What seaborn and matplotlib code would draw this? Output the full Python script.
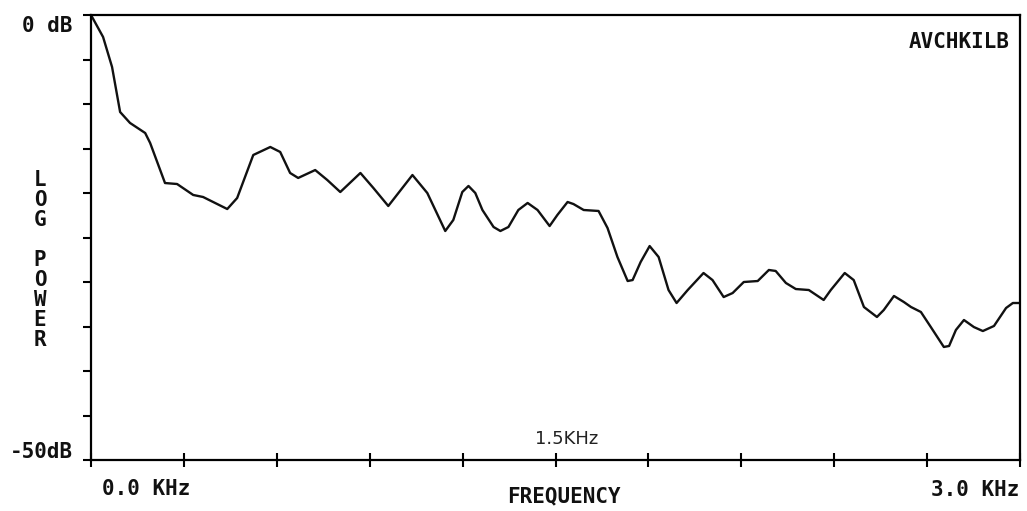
import numpy as np
import pandas as pd
import matplotlib
matplotlib.use("Agg")
import matplotlib.pyplot as plt
import seaborn as sns

# Averaged log power spectrum (frequency in kHz, level in dB re. peak)
freq_khz = [0.000, 0.039, 0.068, 0.094, 0.126, 0.175, 0.191, 0.239, 0.278, 0.330,
            0.362, 0.440, 0.472, 0.524, 0.579, 0.611, 0.643, 0.669, 0.724, 0.763,
            0.805, 0.870, 0.912, 0.960, 1.038, 1.086, 1.144, 1.170, 1.199, 1.219,
            1.241, 1.264, 1.300, 1.322, 1.348, 1.380, 1.410, 1.442, 1.481, 1.506,
            1.539, 1.558, 1.591, 1.639, 1.668, 1.700, 1.733, 1.749, 1.775, 1.804,
            1.833, 1.865, 1.891, 1.927, 1.978, 2.007, 2.043, 2.072, 2.108, 2.153,
            2.189, 2.211, 2.244, 2.276, 2.318, 2.366, 2.389, 2.434, 2.463, 2.496,
            2.538, 2.560, 2.593, 2.625, 2.648, 2.680, 2.712, 2.754, 2.771, 2.793,
            2.819, 2.851, 2.880, 2.916, 2.955, 2.977, 3.000]
level_db = [0.00, -2.47, -5.84, -10.90, -12.13, -13.26, -14.38, -18.88, -18.99, -20.22,
            -20.45, -21.80, -20.56, -15.73, -14.83, -15.39, -17.75, -18.31, -17.42, -18.54,
            -19.89, -17.75, -19.44, -21.46, -17.98, -20.00, -24.27, -23.03, -19.89, -19.21,
            -20.00, -21.91, -23.82, -24.27, -23.82, -21.91, -21.12, -21.91, -23.71, -22.47,
            -21.01, -21.24, -21.91, -22.02, -23.93, -27.19, -29.89, -29.78, -27.75, -25.96,
            -27.19, -30.90, -32.36, -30.90, -28.99, -29.78, -31.69, -31.24, -30.00, -29.89,
            -28.65, -28.76, -30.11, -30.79, -30.90, -32.02, -30.90, -28.99, -29.78, -32.81,
            -33.93, -33.15, -31.57, -32.25, -32.81, -33.37, -35.06, -37.30, -37.19, -35.39,
            -34.27, -35.06, -35.51, -34.94, -32.92, -32.36, -32.36]

x_ticks = [0.3 * i for i in range(11)]
y_ticks = [-5 * i for i in range(11)]
y_end_labels = ["0 dB", "-50dB"]
x_end_labels = ["0.0 KHz", "FREQUENCY", "3.0 KHz"]
title_tag = "AVCHKILB"
ylabel_letters = ["L", "O", "G", "", "P", "O", "W", "E", "R"]
marker_label = "1.5KHz"

sns.set_style("white")
mono = ["DejaVu Sans Mono"]

W, H = 1027, 511
fig = plt.figure(figsize=(W / 100, H / 100), dpi=100)
ax = fig.add_axes([91 / W, 1 - 460 / H, 929 / W, 445 / H])

df = pd.DataFrame({"freq": freq_khz, "level": level_db})
sns.lineplot(data=df, x="freq", y="level", ax=ax, color="#111111", linewidth=1.7,
             solid_joinstyle="round", solid_capstyle="round")

ax.set_xlim(0, 3.0)
ax.set_ylim(-50, 0)
ax.set_xticks(x_ticks)
ax.set_yticks(y_ticks)
ax.set_xticklabels([])
ax.set_yticklabels([])
ax.set_xlabel("")
ax.set_ylabel("")
ax.tick_params(axis="x", direction="inout", length=10, width=1.5, colors="black", bottom=True)
ax.tick_params(axis="y", direction="out", length=6, width=1.5, colors="black", left=True)
for side in ["left", "bottom", "top", "right"]:
    ax.spines[side].set_visible(True)
    ax.spines[side].set_color("black")
    ax.spines[side].set_linewidth(1.6)


def put(px, py, s, ha="center", **kw):
    fig.text(px / W, 1 - py / H, s, ha=ha, va="center", **kw)


txt = dict(family=mono, fontsize=15, fontweight="bold", color="#111111")
put(47, 26, y_end_labels[0], **txt)
put(41, 452, y_end_labels[1], **txt)
put(146, 489, x_end_labels[0], **txt)
put(564, 496, x_end_labels[1], **txt)
put(1019, 490, x_end_labels[2], ha="right", **txt)
put(1010, 42, title_tag, ha="right", **txt)
for i, ch in enumerate(ylabel_letters):
    if ch:
        put(40, 180 + 20 * i, ch, **txt)

put(567, 439, marker_label, family=["DejaVu Sans"], fontsize=13, color="#222222")

fig.savefig("out.png", dpi=100, facecolor="white")
